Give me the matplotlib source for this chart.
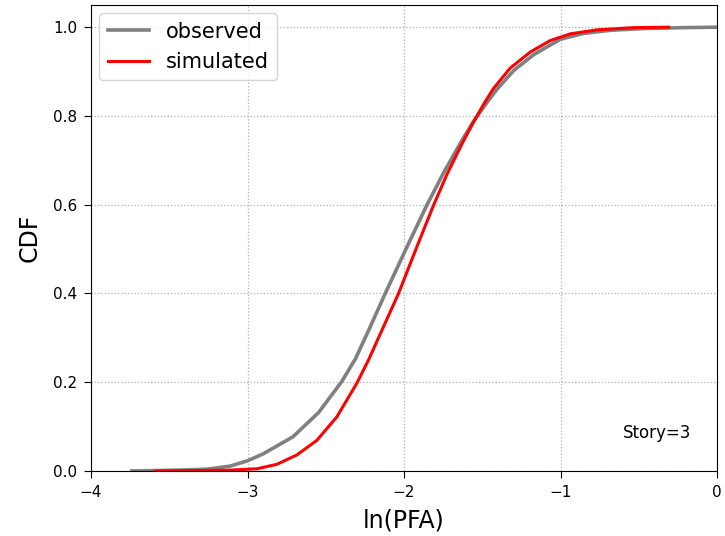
import matplotlib
matplotlib.use('Agg')
import matplotlib.pyplot as plt

# empirical CDF of ln(PFA), story 3
obs_x = [-3.74, -3.43, -3.26, -3.111, -3.0, -2.898, -2.71, -2.545, -2.397, -2.31,
         -2.222, -2.12, -1.981, -1.854, -1.747, -1.641, -1.556, -1.475, -1.406, -1.30,
         -1.172, -1.0, -0.852, -0.682, -0.469, -0.213, 0.0]
obs_y = [0.0, 0.002, 0.004, 0.011, 0.023, 0.039, 0.077, 0.132, 0.202, 0.253,
         0.320, 0.40, 0.505, 0.599, 0.672, 0.738, 0.788, 0.828, 0.860, 0.902,
         0.938, 0.973, 0.986, 0.993, 0.997, 0.999, 1.0]

sim_x = [-3.59, -3.11, -2.94, -2.813, -2.685, -2.557, -2.429, -2.301, -2.227, -2.131,
         -2.035, -1.918, -1.811, -1.726, -1.630, -1.556, -1.485, -1.428, -1.321, -1.193,
         -1.065, -0.937, -0.767, -0.533, -0.309]
sim_y = [0.0, 0.002, 0.005, 0.015, 0.036, 0.069, 0.122, 0.198, 0.25, 0.325,
         0.40, 0.505, 0.599, 0.668, 0.737, 0.786, 0.830, 0.862, 0.908, 0.944,
         0.970, 0.985, 0.994, 0.999, 1.0]

fig = plt.figure(figsize=(7.25, 5.36), dpi=100)
ax = fig.add_axes([91 / 725, 65 / 536, 626 / 725, 466 / 536])

ax.plot(obs_x, obs_y, color='gray', lw=2.6, label='observed')
ax.plot(sim_x, sim_y, color='red', lw=2.2, label='simulated')

ax.set_xlim(-4, 0)
ax.set_ylim(0, 1.05)
ax.set_xticks([-4, -3, -2, -1, 0])
ax.set_yticks([0.0, 0.2, 0.4, 0.6, 0.8, 1.0])
ax.grid(True, linestyle=':', color='#b0b0b0', lw=0.9)
ax.tick_params(labelsize=11, length=5, pad=5)
ax.set_xlabel('ln(PFA)', fontsize=17, labelpad=6)
ax.set_ylabel('CDF', fontsize=17, labelpad=8)
ax.text(-0.38, 0.086, 'Story=3', fontsize=12, ha='center', va='center')
ax.legend(loc='upper left', fontsize=15, borderaxespad=0.4)

fig.savefig('out.png')
